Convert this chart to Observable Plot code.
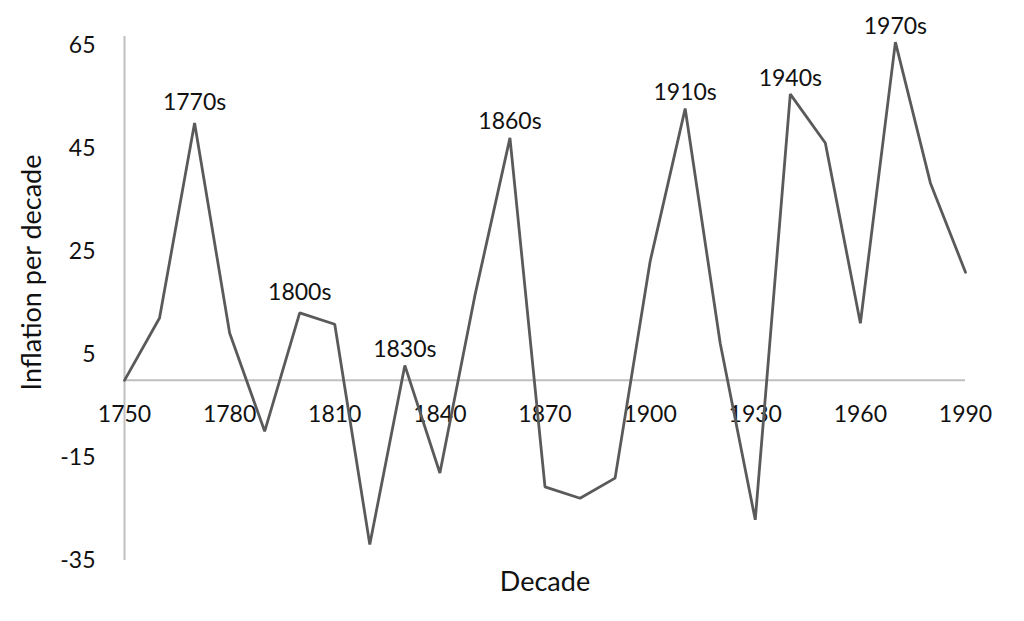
<!DOCTYPE html>
<html>
<head>
<meta charset="utf-8">
<script src="https://cdn.jsdelivr.net/npm/d3@7"></script>
<script src="https://cdn.jsdelivr.net/npm/@observablehq/plot@0.6"></script>
<style>
  html, body { margin: 0; padding: 0; background: #fff; }
  #chart svg { display: block; }
</style>
</head>
<body>
<div id="chart"></div>
<script>
const decades = [1750,1760,1770,1780,1790,1800,1810,1820,1830,1840,1850,1860,1870,1880,1890,1900,1910,1920,1930,1940,1950,1960,1970,1980,1990];
const inflation = [0,12.1,50.0,9.2,-9.9,13.1,10.9,-31.9,2.9,-18.0,16.5,47.1,-20.7,-22.9,-19.0,23.1,52.8,7.2,-27.1,55.6,46.1,11.1,65.7,38.3,21.0];
const xTicks = [1750,1780,1810,1840,1870,1900,1930,1960,1990];
const yTicks = [65,45,25,5,-15,-35];
const peakDecades = [1770,1800,1830,1860,1910,1940,1970];
const peakLabels = ["1770s","1800s","1830s","1860s","1910s","1940s","1970s"];
const xTitle = "Decade";
const yTitle = "Inflation per decade";

const data = decades.map((d, i) => ({decade: d, value: inflation[i]}));
const peaks = peakDecades.map((d, i) => ({decade: d, value: inflation[decades.indexOf(d)], label: peakLabels[i]}));
const peaksHigh = peaks.filter(p => p.decade === 1770 || p.decade === 1800);
const peaksLow = peaks.filter(p => !(p.decade === 1770 || p.decade === 1800));

const font = "Lato, 'Open Sans', sans-serif";

const chart = Plot.plot({
  width: 1024,
  height: 621,
  marginLeft: 124,
  marginRight: 59,
  marginTop: 36,
  marginBottom: 61,
  style: {fontFamily: font, fontSize: "23px", color: "#111", background: "#fff"},
  x: {domain: [1750, 1990]},
  y: {domain: [-35, 66.8]},
  marks: [
    Plot.axisY({ticks: yTicks, tickSize: 0, tickPadding: 29, label: null, fontSize: 23, tickFormat: d => String(d)}),
    Plot.axisX({ticks: [], label: null}),
    Plot.ruleX([1750], {y1: -35, y2: 66.8, stroke: "#bfbfbf", strokeWidth: 2}),
    Plot.ruleY([0], {x1: 1750, x2: 1990, stroke: "#bfbfbf", strokeWidth: 2}),
    Plot.text(xTicks, {x: d => d, y: 0, dy: 34, text: d => String(d), fontSize: 23, fill: "#111"}),
    Plot.line(data, {x: "decade", y: "value", stroke: "#5a5a5a", strokeWidth: 2.8, strokeLinejoin: "miter"}),
    Plot.text(peaksLow, {x: "decade", y: "value", text: "label", dy: -16, fontSize: 23, fill: "#111"}),
    Plot.text(peaksHigh, {x: "decade", y: "value", text: "label", dy: -20, fontSize: 23, fill: "#111"}),
    Plot.text([xTitle], {frameAnchor: "bottom", dy: 30, text: d => d, fontSize: 27, fill: "#111"}),
    Plot.text([yTitle], {frameAnchor: "left", textAnchor: "middle", rotate: -90, dx: -92, dy: -26, text: d => d, fontSize: 27, fill: "#111"})
  ]
});
document.getElementById("chart").appendChild(chart);
</script>
</body>
</html>
